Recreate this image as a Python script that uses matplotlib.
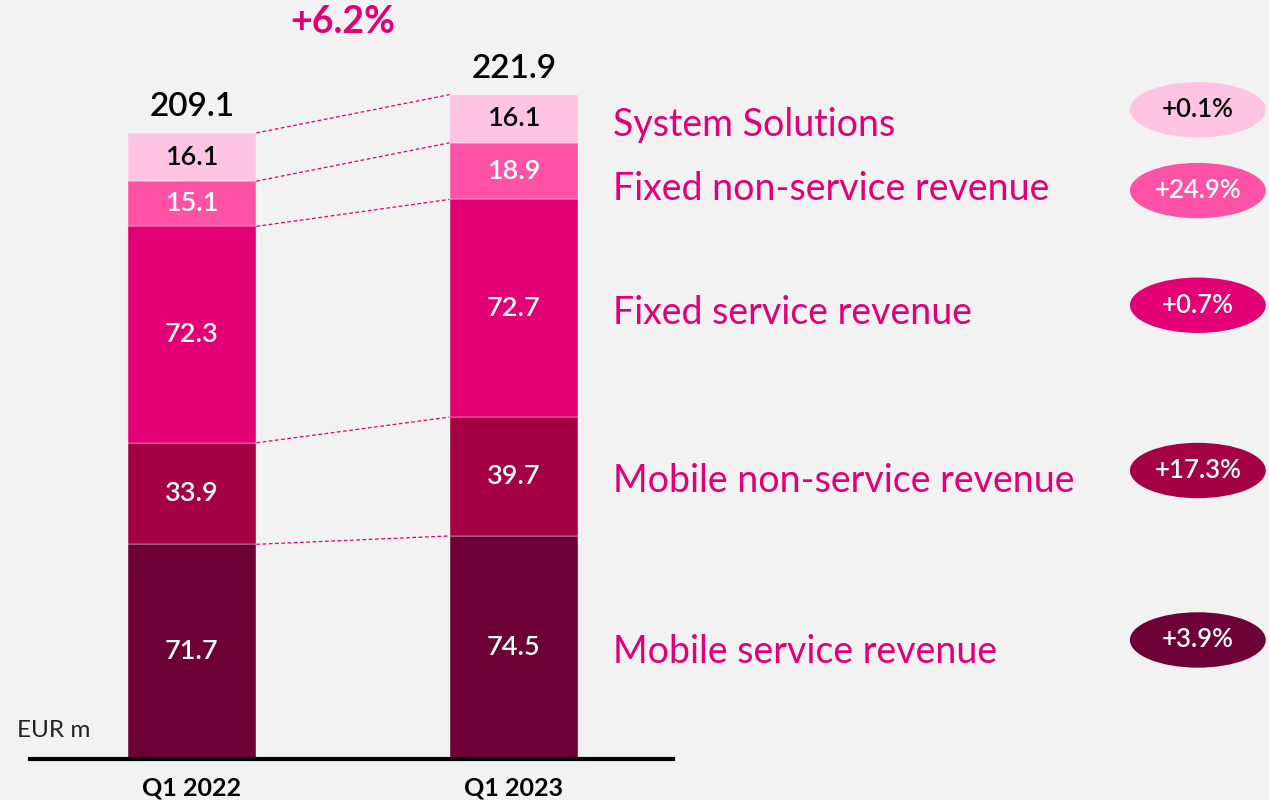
import matplotlib.pyplot as plt
from matplotlib.patches import Ellipse
import numpy as np

# data (EUR m)
periods = ['Q1 2022', 'Q1 2023']
segments = ['Mobile service revenue', 'Mobile non-service revenue',
            'Fixed service revenue', 'Fixed non-service revenue', 'System Solutions']
q1_2022 = [71.7, 33.9, 72.3, 15.1, 16.1]
q1_2023 = [74.5, 39.7, 72.7, 18.9, 16.1]
totals = [209.1, 221.9]
seg_growth = ['+3.9%', '+17.3%', '+0.7%', '+24.9%', '+0.1%']
total_growth = '+6.2%'

colors = ['#6D0036', '#A60045', '#E20074', '#FF52A6', '#FFC4E1']
text_cols = ['white', 'white', 'white', 'white', 'black']
MAGENTA = '#E20074'
BG = '#F2F2F2'

plt.rcParams['font.family'] = ['Lato', 'DejaVu Sans']

fig = plt.figure(figsize=(12.69, 8.0), dpi=100, facecolor=BG)
ax = fig.add_axes([0, 0, 1, 1], facecolor=BG)
ax.set_xlim(-0.596, 3.345)
ax.set_ylim(-13.7, 253.5)
ax.axis('off')

x = np.arange(len(periods))
w = 0.4
vals = np.array([q1_2022, q1_2023])
bottoms = np.vstack([np.zeros(2), np.cumsum(vals, axis=1)[:, :-1].T]).T

for i in range(len(segments)):
    ax.bar(x, vals[:, i], w, bottom=bottoms[:, i], color=colors[i],
           edgecolor=BG, linewidth=0.3)
    for j in range(2):
        ax.text(x[j], bottoms[j, i] + vals[j, i] / 2, f'{vals[j, i]:.1f}',
                ha='center', va='center', fontsize=19.5, color=text_cols[i],
                fontweight='semibold')

# dashed connectors between segment tops
tops = bottoms + vals
for i in range(len(segments)):
    ax.plot([x[0] + w / 2, x[1] - w / 2], [tops[0, i], tops[1, i]],
            ls=(0, (3, 2)), color=MAGENTA, lw=0.9)

# totals
for j in range(2):
    ax.text(x[j], totals[j] + 3.5, f'{totals[j]:.1f}', ha='center', va='bottom',
            fontsize=24, color='black', fontweight='semibold')
ax.text(0.468, 246, total_growth, ha='center', va='center', fontsize=27,
        color=MAGENTA, fontweight='bold')

# right-hand labels and growth badges
label_nudge = [-1.5, -1.5, -1.5, -6, -2]
badge_nudge = [2.5, 2, 1, -6.5, 3]
for i in range(len(segments)):
    c = bottoms[1, i] + vals[1, i] / 2
    ax.text(1.307, c + label_nudge[i], segments[i], ha='left', va='center',
            fontsize=27, color=MAGENTA)
    yc = c + badge_nudge[i]
    ax.add_patch(Ellipse((3.124, yc), 0.422, 18.5, color=colors[i], lw=0))
    ax.text(3.124, yc, seg_growth[i], ha='center', va='center', fontsize=18.5,
            color=text_cols[i], fontweight='semibold')

# baseline, axis labels
ax.axhline(0, xmin=30 / 1269, xmax=673 / 1269, color='black', lw=3)
for j in range(2):
    ax.text(x[j], -9.8, periods[j], ha='center', va='center', fontsize=18,
            fontweight='bold')
ax.text(-0.543, 9.6, 'EUR m', ha='left', va='center', fontsize=17.5,
        color='#222222')

fig.savefig('out.png', dpi=100, facecolor=BG)
